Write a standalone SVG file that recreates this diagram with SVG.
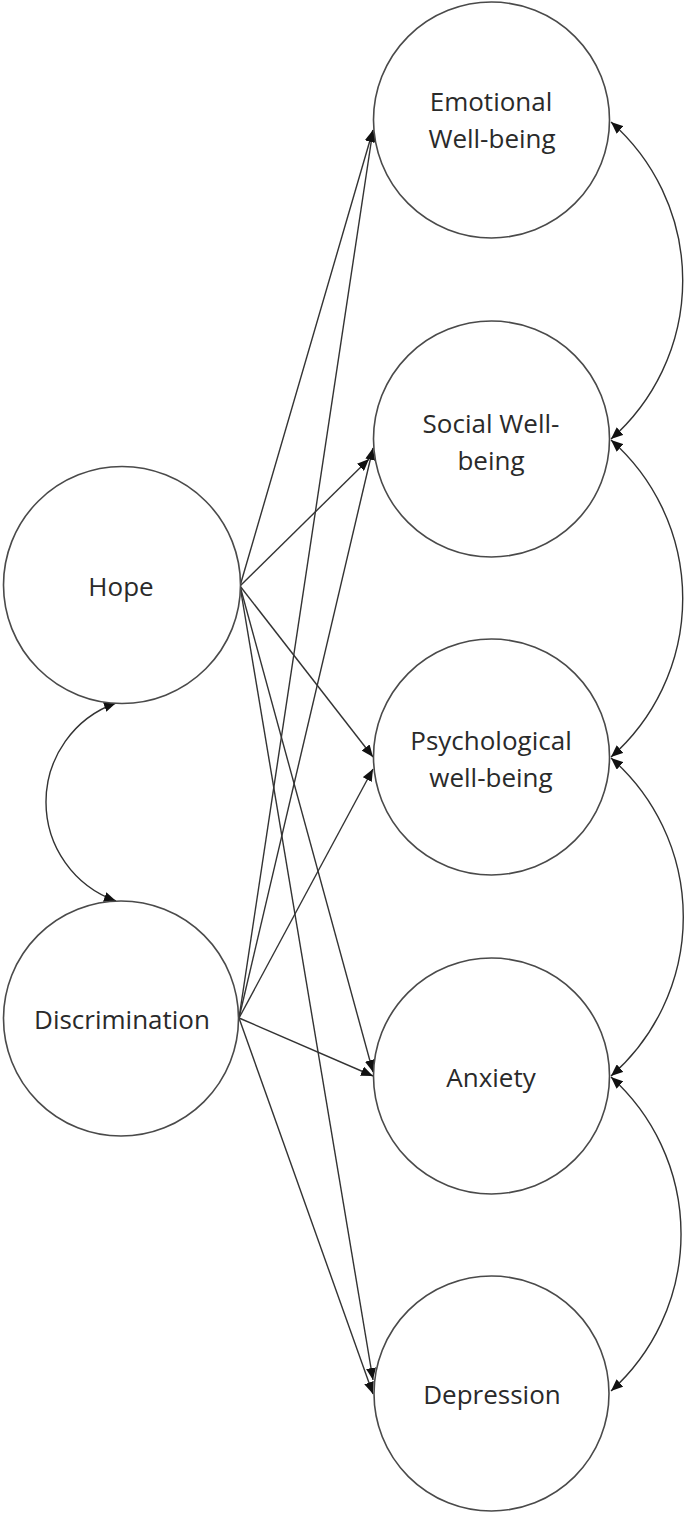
<svg xmlns="http://www.w3.org/2000/svg" width="685" height="1515" viewBox="0 0 685 1515">
<style>
.node{fill:#fff;stroke:#4a4a4a;stroke-width:1.6}
.lbl{font-family:"Open Sans","Liberation Sans",sans-serif;font-size:26px;fill:#2a2a2a;text-anchor:middle}
.edge{fill:none;stroke:#333;stroke-width:1.4;marker-end:url(#ah)}
.cov{fill:none;stroke:#333;stroke-width:1.4;marker-end:url(#ah);marker-start:url(#ah)}
</style>
<defs>
<marker id="ah" viewBox="0 0 12 10" refX="12" refY="5" markerWidth="12" markerHeight="10" markerUnits="userSpaceOnUse" orient="auto-start-reverse">
<path d="M0,0 L12,5 L0,10 Z" fill="#111"/>
</marker>
</defs>
<rect width="685" height="1515" fill="#fff"/>
<g id="connectors">
<path class="edge" d="M240,586 L373,130"/>
<path class="edge" d="M240,586 L369,459"/>
<path class="edge" d="M240,586 L373,757"/>
<path class="edge" d="M240,586 L373,1072"/>
<path class="edge" d="M240,586 L373,1380"/>
<path class="edge" d="M239,1018 L373,130"/>
<path class="edge" d="M239,1018 L373,448"/>
<path class="edge" d="M239,1018 L373,769"/>
<path class="edge" d="M239,1018 L373,1076"/>
<path class="edge" d="M239,1018 L373,1394"/>
<path class="cov" d="M116,703 A105 105 0 0 0 116,901"/>
<path class="cov" d="M611,122 A211 211 0 0 1 611,439"/>
<path class="cov" d="M611,440 A211 211 0 0 1 611,757"/>
<path class="cov" d="M611,758 A211 211 0 0 1 611,1076"/>
<path class="cov" d="M611,1077 A211 211 0 0 1 611,1391"/>
</g>
<g id="hope"><circle class="node" cx="122" cy="585" r="118.5"/><text class="lbl" x="121" y="596">Hope</text></g>
<g id="discrimination"><circle class="node" cx="121" cy="1018.5" r="117.5"/><text class="lbl" x="122" y="1029">Discrimination</text></g>
<g id="emotional"><circle class="node" cx="491.5" cy="120" r="118"/><text class="lbl" x="491" y="111">Emotional</text><text class="lbl" x="492" y="148">Well-being</text></g>
<g id="social"><circle class="node" cx="491.5" cy="439" r="118"/><text class="lbl" x="491" y="433">Social Well-</text><text class="lbl" x="491" y="470">being</text></g>
<g id="psychological"><circle class="node" cx="491.5" cy="757" r="118"/><text class="lbl" x="491" y="750">Psychological</text><text class="lbl" x="491" y="787">well-being</text></g>
<g id="anxiety"><circle class="node" cx="491.5" cy="1076" r="118"/><text class="lbl" x="491" y="1087">Anxiety</text></g>
<g id="depression"><circle class="node" cx="491.5" cy="1393.5" r="117.5"/><text class="lbl" x="492" y="1404">Depression</text></g>
</svg>
